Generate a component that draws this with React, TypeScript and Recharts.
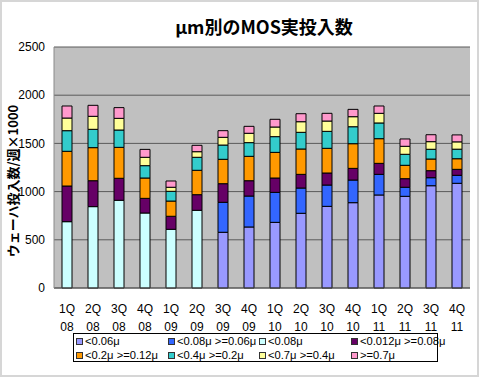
import { BarChart, Bar, XAxis, YAxis, CartesianGrid } from "recharts"

const quarters = ["1Q", "2Q", "3Q", "4Q", "1Q", "2Q", "3Q", "4Q", "1Q", "2Q", "3Q", "4Q", "1Q", "2Q", "3Q", "4Q"]
const years = ["08", "08", "08", "08", "09", "09", "09", "09", "10", "10", "10", "10", "11", "11", "11", "11"]

// stacked from bottom to top
const lt006 = [0, 0, 0, 0, 0, 0, 578, 633, 681, 775, 847, 885, 965, 951, 1061, 1086]
const lt008ge006 = [0, 0, 0, 0, 0, 0, 311, 321, 311, 262, 221, 235, 214, 94, 83, 83]
const lt008 = [688, 844, 910, 778, 609, 806, 0, 0, 0, 0, 0, 0, 0, 0, 0, 0]
const lt012ge008 = [370, 269, 228, 152, 135, 162, 193, 159, 149, 142, 125, 121, 114, 89, 73, 62]
const lt02ge012 = [360, 343, 321, 211, 158, 253, 253, 253, 266, 263, 256, 256, 256, 139, 121, 110]
const lt04ge02 = [214, 190, 180, 128, 101, 135, 148, 142, 163, 173, 176, 176, 163, 114, 101, 99]
const lt07ge04 = [131, 135, 121, 87, 42, 58, 80, 97, 100, 110, 107, 104, 100, 83, 79, 76]
const ge07 = [125, 114, 111, 82, 65, 66, 69, 72, 80, 83, 80, 76, 76, 76, 72, 72]

const yTicks = [0, 500, 1000, 1500, 2000, 2500]

const title = "μm別のMOS実投入数"
const yLabel = "ウェーハ投入数/週×1000"

const series = [
  { key: "s1", name: "<0.06μ", values: lt006, color: "#9999FF" },
  { key: "s2", name: "<0.08μ >=0.06μ", values: lt008ge006, color: "#3366FF" },
  { key: "s3", name: "<0.08μ", values: lt008, color: "#CCFFFF" },
  { key: "s4", name: "<0.012μ >=0.08μ", values: lt012ge008, color: "#660066" },
  { key: "s5", name: "<0.2μ >=0.12μ", values: lt02ge012, color: "#FF9900" },
  { key: "s6", name: "<0.4μ >=0.2μ", values: lt04ge02, color: "#33CCCC" },
  { key: "s7", name: "<0.7μ >=0.4μ", values: lt07ge04, color: "#FFFF99" },
  { key: "s8", name: ">=0.7μ", values: ge07, color: "#FF99CC" },
]

const data = quarters.map((q, i) => {
  const row: Record<string, string | number> = { name: `${q} ${years[i]}` }
  series.forEach((s) => (row[s.key] = s.values[i]))
  return row
})

const FONT = "'Liberation Sans', Arial, sans-serif"
const JP = "'Noto Sans CJK JP', sans-serif"

function QuarterTick({ x, y, index }: any) {
  return (
    <text x={x} y={y} textAnchor="middle" fontSize={12} fontFamily={FONT} fill="#000">
      <tspan x={x} dy={23}>{quarters[index]}</tspan>
      <tspan x={x} dy={18}>{years[index]}</tspan>
    </text>
  )
}

export default function App() {
  return (
    <div
      style={{
        position: "relative",
        width: 479,
        height: 377,
        background: "#fff",
        boxShadow: "inset 0 0 0 2px #d6d6d6",
      }}
    >
      <style>{"body{margin:0}"}</style>
      <div
        style={{
          position: "absolute",
          top: 14,
          left: 0,
          width: 528,
          textAlign: "center",
          fontFamily: JP,
          fontWeight: "bold",
          fontSize: 18,
          lineHeight: "24px",
        }}
      >
        {title}
      </div>
      <BarChart
        width={479}
        height={377}
        data={data}
        margin={{ top: 47, right: 9, left: 0, bottom: 44 }}
        barSize={10}
        style={{ position: "absolute", left: 0, top: 0 }}
      >
        <CartesianGrid vertical={false} fill="#C0C0C0" stroke="#5a5a5a" />
        <XAxis
          dataKey="name"
          height={45}
          interval={0}
          tickLine={false}
          tickSize={0}
          axisLine={{ stroke: "#555" }}
          tick={<QuarterTick />}
        />
        <YAxis
          width={54}
          domain={[0, 2500]}
          ticks={yTicks}
          tickLine={false}
          tickSize={0}
          tickMargin={9}
          axisLine={{ stroke: "#8a8a8a" }}
          tick={{ fontSize: 12, fill: "#000", fontFamily: FONT }}
          label={{
            position: "center",
            content: () => (
              <text
                x={12}
                y={181}
                transform="rotate(-90 12 181)"
                textAnchor="middle"
                dominantBaseline="central"
                fontSize={13}
                fontWeight="bold"
                fontFamily={JP}
                fill="#000"
              >
                {yLabel}
              </text>
            ),
          }}
        />
        <YAxis
          yAxisId="frame"
          orientation="right"
          width={0}
          tick={false}
          tickLine={false}
          axisLine={{ stroke: "#8a8a8a" }}
        />
        {series.map((s) => (
          <Bar
            key={s.key}
            dataKey={s.key}
            name={s.name}
            stackId="a"
            fill={s.color}
            stroke="#000"
            strokeWidth={1}
            isAnimationActive={false}
          />
        ))}
      </BarChart>
      <div
        style={{
          position: "absolute",
          left: 73,
          top: 333,
          width: 365,
          height: 29,
          boxSizing: "border-box",
          border: "1px solid #000",
          fontFamily: FONT,
          fontSize: 11.2,
          color: "#000",
        }}
      >
        {series.map((s, i) => (
          <div
            key={s.key}
            style={{
              position: "absolute",
              left: [2, 94, 185, 277][i % 4],
              top: i < 4 ? 1 : 15,
              height: 13,
              lineHeight: "13px",
              whiteSpace: "nowrap",
              display: "flex",
              alignItems: "center",
            }}
          >
            <span
              style={{
                display: "inline-block",
                width: 5,
                height: 5,
                border: "1px solid #333",
                background: s.color,
                marginRight: 2,
              }}
            />
            {s.name}
          </div>
        ))}
      </div>
    </div>
  )
}
